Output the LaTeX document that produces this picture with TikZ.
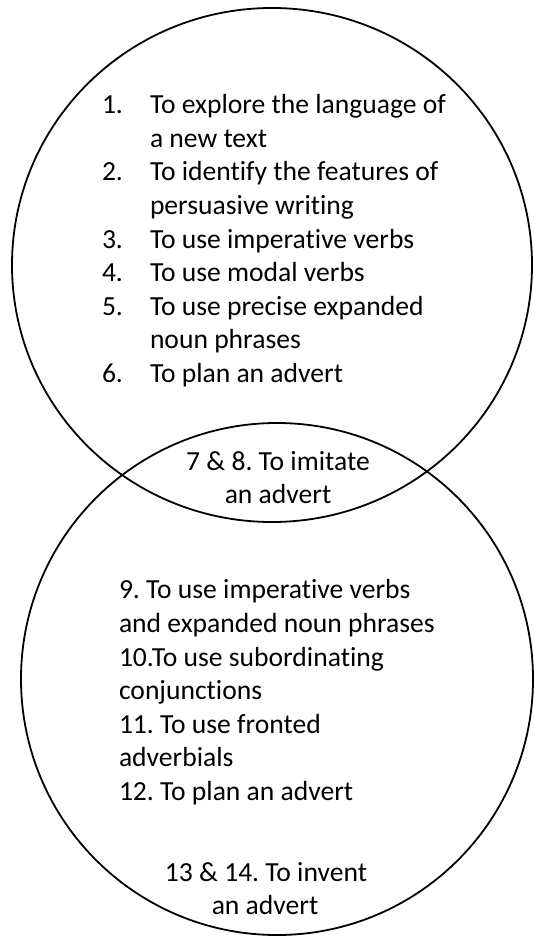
\documentclass[tikz,border=0pt]{standalone}
\usepackage{fontspec}
\setmainfont{Carlito}[Ligatures={NoCommon}]
\begin{document}
\frenchspacing
\begin{tikzpicture}[x=1pt,y=-1pt,
  ring/.style={draw=black,line width=1.8pt},
  txt/.style={inner sep=0pt,outer sep=0pt,font=\fontsize{27.6}{33.5}\selectfont},
  lt/.style={txt,anchor=base west},
  ct/.style={txt,anchor=base}]
\useasboundingbox (0,0) rectangle (534,936);
\draw[ring] (272,265) ellipse [x radius=260, y radius=257];
\draw[ring] (277,679) ellipse [x radius=256, y radius=256];
% top list
\node[lt] (n1) at (102,114) {1.};
\node[lt] (a1) at (150,114) {To explore the language of};
\node[lt] (a1b) at (150,147.5) {a new text};
\node[lt] (n2) at (102,181) {2.};
\node[lt] (a2) at (150,181) {To identify the features of};
\node[lt] (a2b) at (150,214.5) {persuasive writing};
\node[lt] (n3) at (102,248) {3.};
\node[lt] (a3) at (150,248) {To use imperative verbs};
\node[lt] (n4) at (102,281.5) {4.};
\node[lt] (a4) at (150,281.5) {To use modal verbs};
\node[lt] (n5) at (102,315) {5.};
\node[lt] (a5) at (150,315) {To use precise expanded};
\node[lt] (a5b) at (150,348.5) {noun phrases};
\node[lt] (n6) at (102,382) {6.};
\node[lt] (a6) at (150,382) {To plan an advert};
% lens
\node[ct] (m1) at (278,470) {7 \& 8. To imitate};
\node[ct] (m2) at (278,503) {an advert};
% bottom list
\node[lt] (b1) at (119,598) {9. To use imperative verbs};
\node[lt] (b2) at (119,632) {and expanded noun phrases};
\node[lt] (b3) at (119,666) {10.To use subordinating};
\node[lt] (b4) at (119,699.5) {conjunctions};
\node[lt] (b5) at (119,733) {11. To use fronted};
\node[lt] (b6) at (119,766.5) {adverbials};
\node[lt] (b7) at (119,800) {12. To plan an advert};
\node[ct] (e1) at (266,881) {13 \& 14. To invent};
\node[ct] (e2) at (265,914) {an advert};
\end{tikzpicture}
\end{document}
